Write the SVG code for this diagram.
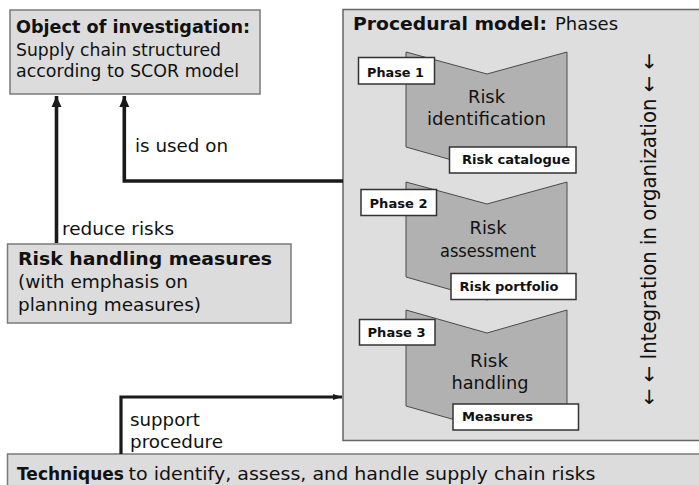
<svg xmlns="http://www.w3.org/2000/svg" width="699" height="485" viewBox="0 0 699 485">
  <defs>
    <marker id="headBig" markerUnits="userSpaceOnUse" markerWidth="12" markerHeight="12" viewBox="0 0 12 12" refX="11" refY="6" orient="auto">
      <path d="M0,1 L11,6 L0,11 Z" fill="#1a1a1a"/>
    </marker>
    <marker id="headSmall" markerUnits="userSpaceOnUse" markerWidth="10" markerHeight="8" viewBox="0 0 10 8" refX="9" refY="4" orient="auto">
      <path d="M0,1 L9,4 L0,7 Z" fill="#1a1a1a"/>
    </marker>
  </defs>
  <style>
    text { font-family: "DejaVu Sans", Verdana, sans-serif; fill: #111; }
    .box { fill: #dcdcdc; stroke: #7a7a7a; stroke-width: 1.5; }
    .proc { fill: #dedede; stroke: #666; stroke-width: 1.5; }
    .phase { fill: #b1b1b1; stroke: #4a4a4a; stroke-width: 1; }
    .tag { fill: #fff; stroke: #333; stroke-width: 1.5; }
    .b { font-weight: bold; }
    .t17 { font-size: 17px; }
    .t13 { font-size: 13px; font-weight: bold; }
    .t18 { font-size: 18px; }
    .conn { fill: none; stroke: #1a1a1a; stroke-width: 3.6; }
  </style>
  <rect width="699" height="485" fill="#fff"/>

  <!-- object of investigation -->
  <g id="object">
    <rect class="box" x="10" y="10" width="250" height="84"/>
    <text class="t17 b" x="16" y="33" textLength="234" lengthAdjust="spacingAndGlyphs">Object of investigation:</text>
    <text class="t17" x="16" y="55.5" textLength="205" lengthAdjust="spacingAndGlyphs">Supply chain structured</text>
    <text class="t17" x="16" y="77" textLength="223" lengthAdjust="spacingAndGlyphs">according to SCOR model</text>
  </g>

  <!-- risk handling measures -->
  <g id="measures">
    <rect class="box" x="7.5" y="244" width="283.5" height="79"/>
    <text class="t17 b" x="18" y="265" textLength="254" lengthAdjust="spacingAndGlyphs">Risk handling measures</text>
    <text class="t17" x="18" y="288" textLength="170" lengthAdjust="spacingAndGlyphs">(with emphasis on</text>
    <text class="t17" x="18" y="311" textLength="183" lengthAdjust="spacingAndGlyphs">planning measures)</text>
  </g>

  <!-- techniques -->
  <g id="techniques">
    <rect class="box" x="7.5" y="454" width="700" height="40"/>
    <text class="t17 b" x="17" y="480" textLength="107" lengthAdjust="spacingAndGlyphs">Techniques</text>
    <text class="t17" x="128.5" y="480" textLength="467" lengthAdjust="spacingAndGlyphs">to identify, assess, and handle supply chain risks</text>
  </g>

  <!-- procedural model -->
  <g id="procedural-model">
    <rect class="proc" x="343" y="9.5" width="362" height="431"/>
    <text class="t17 b" x="353" y="30" textLength="194" lengthAdjust="spacingAndGlyphs">Procedural model:</text>
    <text class="t17" x="555" y="30" textLength="63" lengthAdjust="spacingAndGlyphs">Phases</text>
    <text font-size="21" transform="translate(656,229) rotate(-90)" text-anchor="middle" style="font-family:'DejaVu Sans Condensed','DejaVu Sans',sans-serif" textLength="352" lengthAdjust="spacingAndGlyphs">← ← Integration in organization ← ←</text>
  </g>

  <g id="phase1">
    <polygon class="phase" points="406,52 487,74 567,52 567,147 487,170 406,147"/>
    <text class="t18" x="486.5" y="103" text-anchor="middle" textLength="37" lengthAdjust="spacingAndGlyphs">Risk</text>
    <text class="t18" x="486.5" y="125" text-anchor="middle" textLength="119" lengthAdjust="spacingAndGlyphs">identification</text>
    <rect class="tag" x="358.5" y="57.5" width="76" height="26.5"/>
    <text class="t13" x="367" y="77" textLength="57" lengthAdjust="spacingAndGlyphs">Phase 1</text>
    <rect class="tag" x="449.5" y="147" width="126.5" height="26"/>
    <text class="t13" x="462" y="163.5" textLength="108" lengthAdjust="spacingAndGlyphs">Risk catalogue</text>
  </g>

  <g id="phase2">
    <polygon class="phase" points="406,182 487,204 567,182 567,277 487,300 406,277"/>
    <text class="t18" x="488" y="234" text-anchor="middle" textLength="37" lengthAdjust="spacingAndGlyphs">Risk</text>
    <text class="t18" x="488" y="257" text-anchor="middle" textLength="96" lengthAdjust="spacingAndGlyphs">assessment</text>
    <rect class="tag" x="361" y="189.5" width="75.5" height="26"/>
    <text class="t13" x="369.5" y="207.5" textLength="58" lengthAdjust="spacingAndGlyphs">Phase 2</text>
    <rect class="tag" x="451" y="273.5" width="125" height="26"/>
    <text class="t13" x="459.5" y="290.5" textLength="99" lengthAdjust="spacingAndGlyphs">Risk portfolio</text>
  </g>

  <g id="phase3">
    <polygon class="phase" points="406,310 487,333 567,310 567,406 487,429 406,406"/>
    <text class="t18" x="489" y="367" text-anchor="middle" textLength="38" lengthAdjust="spacingAndGlyphs">Risk</text>
    <text class="t18" x="490" y="389" text-anchor="middle" textLength="77" lengthAdjust="spacingAndGlyphs">handling</text>
    <rect class="tag" x="359.5" y="319.5" width="75.5" height="25.5"/>
    <text class="t13" x="367.5" y="337" textLength="58" lengthAdjust="spacingAndGlyphs">Phase 3</text>
    <rect class="tag" x="453" y="404" width="125.5" height="26"/>
    <text class="t13" x="462" y="420.5" textLength="71" lengthAdjust="spacingAndGlyphs">Measures</text>
  </g>

  <!-- connectors -->
  <g id="connectors">
    <path class="conn" d="M56.5,243 V96" marker-end="url(#headBig)"/>
    <path class="conn" d="M343,181 H124.3 V96" marker-end="url(#headBig)"/>
    <path class="conn" d="M121,454 V397 H342" style="stroke-width:3.2" marker-end="url(#headSmall)"/>
    <text class="t17" x="135" y="152" textLength="93" lengthAdjust="spacingAndGlyphs">is used on</text>
    <text class="t17" x="62" y="235" textLength="112" lengthAdjust="spacingAndGlyphs">reduce risks</text>
    <text class="t17" x="130" y="426" textLength="70" lengthAdjust="spacingAndGlyphs">support</text>
    <text class="t17" x="130" y="448" textLength="93" lengthAdjust="spacingAndGlyphs">procedure</text>
  </g>
</svg>
